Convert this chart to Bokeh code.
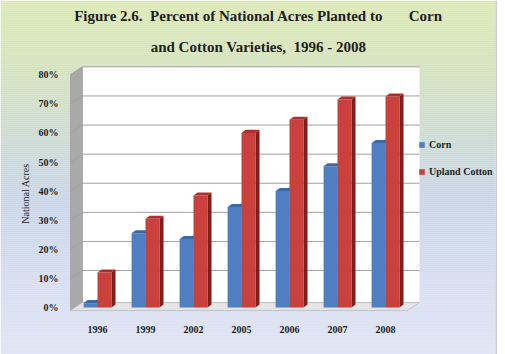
import numpy as np
from bokeh.plotting import figure
from bokeh.models import Legend, LegendItem
from bokeh.core.properties import value
from bokeh.embed import file_html
from bokeh.resources import INLINE

# ---- data ----
years = ["1996", "1999", "2002", "2005", "2006", "2007", "2008"]
corn = [1.5, 25.5, 23.5, 34.5, 40, 48.5, 56.5]
cotton = [12, 30.5, 38.5, 60, 64.5, 71.5, 72.5]
y_ticks = [0, 10, 20, 30, 40, 50, 60, 70, 80]
y_tick_labels = ["0%", "10%", "20%", "30%", "40%", "50%", "60%", "70%", "80%"]
series_names = ["Corn", "Upland Cotton"]
title_lines = ["Figure 2.6.\u00a0\u00a0Percent of National Acres Planted to" + "\u00a0" * 7 + "Corn",
               "and Cotton Varieties,\u00a0\u00a01996 - 2008"]
y_label = "National Acres"

# ---- layout / style (pixel geometry of the canvas) ----
WIDTH, HEIGHT = 505, 354
PX_CAT, PX_PCT = 48.0, 2.91      # pixels per category, per percent
X_ORG, Y_ORG = 97.0, 307.0       # pixel position of first category / 0 %
def dx(px): return (px - X_ORG) / PX_CAT
def dy(py): return (Y_ORG - py) / PX_PCT

FONT = "Liberation Serif"
TXT = "#1e1e1e"
BLUE, BLUE_SIDE, BLUE_TOP = "#4f7fc0", "#34588c", "#3d68a6"
RED, RED_SIDE, RED_TOP = "#c9403d", "#7e1f1d", "#a83230"
W = 0.29                 # bar width (category units)
BD, BDY = 0.085, 1.05    # bar depth offsets
X0, X1 = dx(70), dx(407) # floor front extents
DXW, DYW = 0.25, 2.7     # wall depth offsets

p = figure(width=WIDTH, height=HEIGHT, x_range=(dx(0), dx(WIDTH)), y_range=(dy(HEIGHT), dy(0)),
           output_backend="svg", toolbar_location=None, x_axis_type=None, y_axis_type=None,
           min_border=0)
p.outline_line_color = None
p.grid.visible = False
p.background_fill_color = "white"
p.border_fill_color = "white"

# gradient background
stops_y = [0, 60, 130, 200, 290, 354]
stops_c = [(0xdc, 0xea, 0xb3), (0xd6, 0xe5, 0xbc), (0xce, 0xdd, 0xd2),
           (0xc9, 0xd7, 0xea), (0xd8, 0xdf, 0xf2), (0xe1, 0xe5, 0xf5)]
step = 2
ys = np.arange(0, HEIGHT, step)
cols = ["#%02x%02x%02x" % tuple(int(np.interp(y + step / 2, stops_y, [s[k] for s in stops_c]))
                                for k in range(3)) for y in ys]
p.quad(left=dx(0), right=dx(495), top=[dy(y) for y in ys], bottom=[dy(y + step + 0.3) for y in ys],
       fill_color=cols, line_color=None)
p.quad(left=dx(495), right=dx(496.5), top=dy(0), bottom=dy(HEIGHT), fill_color="#c9ccd2",
       line_color=None)

# 3D walls
top = y_ticks[-1]
p.patch([X0 + DXW, X1 + DXW, X1 + DXW, X0 + DXW], [DYW - 1, DYW - 1, top + DYW, top + DYW],
        fill_color="white", line_color=None)
p.patch([X0, X0 + DXW, X0 + DXW, X0], [-1, DYW - 1, top + DYW, top],
        fill_color="#a9a9a9", line_color="#969696", line_width=0.6)
p.patch([X0, X1, X1 + DXW, X0 + DXW], [-1, -1, DYW - 1, DYW - 1],
        fill_color="#e3e5ea", line_color="#b8bac0", line_width=0.8)
gx = [[X0, X0 + DXW, X1 + DXW] for v in y_ticks[1:]]
gy = [[v, v + DYW, v + DYW] for v in y_ticks[1:]]
p.multi_line(gx, gy, line_color="#a0a0a0", line_width=1)

# bars
idx = np.arange(len(years))
def bar3d(xl, vals, front, side, topc):
    xr = xl + W
    p.patches([[a, a + BD, a + BD, a] for a in xr],
              [[0, BDY, v + BDY, v] for v in vals], fill_color=side, line_color=None)
    r = p.vbar(x=xl + W / 2, width=W, top=vals, bottom=0, fill_color=front, line_color=None)
    p.patches([[a, a + W, a + W + BD, a + BD] for a in xl],
              [[v, v, v + BDY, v + BDY] for v in vals], fill_color=topc, line_color=None)
    return r

r_corn = bar3d(idx - W, corn, BLUE, BLUE_SIDE, BLUE_TOP)
r_cot = bar3d(idx * 1.0, cotton, RED, RED_SIDE, RED_TOP)

# axis tick labels
p.text(x=[dx(58)] * len(y_ticks), y=y_ticks, text=y_tick_labels, text_align="right",
       text_baseline="middle", text_font=value(FONT), text_font_size=value("10px"),
       text_font_style="bold", text_color=TXT)
p.text(x=idx, y=[dy(329)] * len(years), text=years, text_align="center",
       text_baseline="middle", text_font=value(FONT), text_font_size=value("10px"),
       text_font_style="bold", text_color=TXT)
p.text(x=[dx(25)], y=[dy(193)], text=[y_label], angle=np.pi / 2, text_align="center",
       text_baseline="middle", text_font=value(FONT), text_font_size=value("10px"),
       text_color=TXT)

# titles
p.text(x=[dx(258)] * 2, y=[dy(15), dy(46)], text=title_lines, text_align="center",
       text_baseline="middle", text_font=value(FONT), text_font_size=value("15px"),
       text_font_style="bold", text_color=TXT)

# legend
legend = Legend(items=[LegendItem(label=series_names[0], renderers=[r_corn]),
                       LegendItem(label=series_names[1], renderers=[r_cot])],
                location=(418, HEIGHT - 181), margin=0, padding=1, spacing=7,
                glyph_width=7, glyph_height=7, label_standoff=4, label_height=20,
                label_text_font=FONT, label_text_font_size="10px",
                label_text_font_style="bold", label_text_color=TXT,
                border_line_color=None, background_fill_alpha=0)
p.add_layout(legend, "center")

open("out.html", "w").write(file_html(p, INLINE))
